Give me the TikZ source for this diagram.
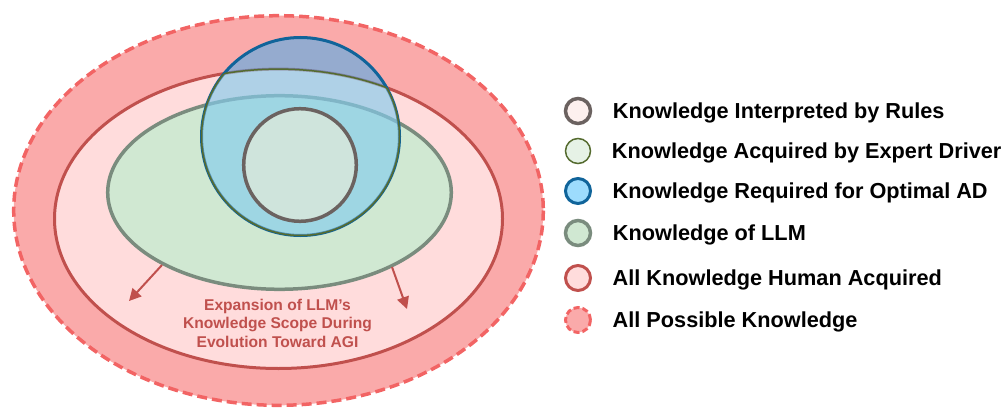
\documentclass[tikz,border=0pt]{standalone}
\usepackage{fontspec}
\setmainfont{Liberation Sans}
\usetikzlibrary{positioning,arrows.meta}

\definecolor{possFill}{HTML}{FAAAAA}
\definecolor{possLine}{HTML}{F26464}
\definecolor{humFill}{HTML}{FFDCDC}
\definecolor{humLine}{HTML}{C0504D}
\definecolor{llmFill}{HTML}{D0E8D2}
\definecolor{llmLine}{HTML}{7A8C7E}
\definecolor{adFill}{HTML}{32ADF5}
\definecolor{adKey}{HTML}{9DDCFD}
\definecolor{adLine}{HTML}{10649A}
\definecolor{expFill}{HTML}{E6F2E6}
\definecolor{expLine}{HTML}{556B2F}
\definecolor{ruleFill}{HTML}{FDF0EE}
\definecolor{ruleTint}{HTML}{F8F0D8}
\definecolor{ruleLine}{HTML}{6B6260}

\tikzset{
  possible/.style={fill=possFill, draw=possLine, line width=3.5pt, dash pattern=on 10pt off 5pt},
  human/.style={fill=humFill, draw=humLine, line width=3pt},
  llm/.style={fill=llmFill, draw=llmLine, line width=3.5pt},
  optimal/.style={draw=adLine, line width=3pt},
  expert/.style={draw=expLine, line width=1.5pt},
  rules/.style={fill=ruleTint, fill opacity=0.55, draw=ruleLine, draw opacity=1, line width=3.5pt},
  spread/.style={draw=humLine, line width=2pt, -{Triangle[length=12pt,width=12pt]}},
  key/.style={circle, minimum size=25pt, inner sep=0pt},
  keytext/.style={inner sep=0pt, text height=15.5pt, text depth=0pt,
    font=\fontsize{21.7}{24}\selectfont\bfseries},
}

\begin{document}
\begin{tikzpicture}[x=1pt, y=-1pt]
  \useasboundingbox (0,0) rectangle (1008,409);

  % Centres of the regions
  \coordinate (cAll) at (278.5, 210.5);
  \coordinate (cHum) at (278.5, 218.8);
  \coordinate (cLLM) at (279.5, 192.5);
  \coordinate (cAD) at (300.5, 136.5);
  \coordinate (cRule) at (300, 165);

  \path[possible] (cAll) ellipse [x radius=264.8, y radius=194.8];
  \path[human] (cHum) ellipse [x radius=224, y radius=149.7];
  \path[llm] (cLLM) ellipse [x radius=171.8, y radius=96.8];

  \fill[adFill, fill opacity=0.5] (cAD) circle [radius=99];
  \draw[optimal] (cAD) circle [radius=99];

  % Expert driver: optimal circle cut by human ellipse
  \begin{scope}
    \clip (cAD) circle [radius=99];
    \fill[expFill, fill opacity=0.3] (cHum) ellipse [x radius=224, y radius=149.7];
    \draw[expert] (cHum) ellipse [x radius=224, y radius=149.7];
  \end{scope}
  \begin{scope}
    \clip (cHum) ellipse [x radius=224, y radius=149.7];
    \draw[expert] (cAD) circle [radius=99];
  \end{scope}

  \path[rules] (cRule) circle [radius=56.3];

  % Growth of the LLM region
  \coordinate (growL0) at (162, 265);
  \coordinate (growL1) at (129, 301);
  \coordinate (growR0) at (392, 267);
  \coordinate (growR1) at (407, 309);
  \draw[spread] (growL0) -- (growL1);
  \draw[spread] (growR0) -- (growR1);

  \node[anchor=north, align=center, inner sep=0pt, text=humLine,
        font=\fontsize{15.6}{18.5}\selectfont\bfseries] (expText) at (277.5, 298.6)
    {Expansion of LLM’s\\Knowledge Scope During\\Evolution Toward AGI};

  % Legend
  \node[key, fill=ruleFill, draw=ruleLine, line width=3.5pt] (keyRules) at (578, 111) {};
  \node[key, fill=expFill, draw=expLine, line width=1.5pt] (keyExpert) at (578, 151) {};
  \node[key, fill=adKey, draw=adLine, line width=3pt] (keyAD) at (578, 191) {};
  \node[key, llm] (keyLLM) at (578, 233) {};
  \node[key, human] (keyHuman) at (578, 278) {};
  \node[key, possible, dash pattern=on 6pt off 3pt, line width=3pt] (keyAll) at (578, 320) {};

  \node[keytext, right=20.5pt of keyRules] (txtRules) {Knowledge Interpreted by Rules};
  \node[keytext, right=20.5pt of keyExpert] (txtExpert) {Knowledge Acquired by Expert Driver};
  \node[keytext, right=20.5pt of keyAD] (txtAD) {Knowledge Required for Optimal AD};
  \node[keytext, right=20.5pt of keyLLM] (txtLLM) {Knowledge of LLM};
  \node[keytext, right=20.5pt of keyHuman] (txtHuman) {All Knowledge Human Acquired};
  \node[keytext, right=20.5pt of keyAll] (txtAll) {All Possible Knowledge};
\end{tikzpicture}
\end{document}
